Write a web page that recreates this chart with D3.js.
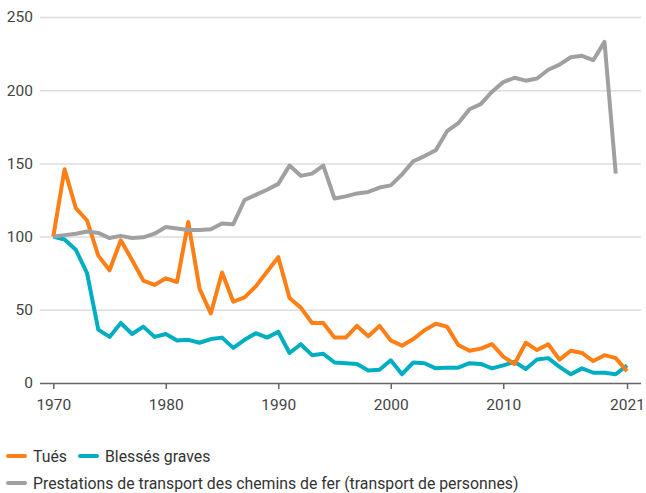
<!DOCTYPE html>
<html>
<head>
<meta charset="utf-8">
<script src="https://cdn.jsdelivr.net/npm/d3@7"></script>
<style>
  body { margin: 0; background: #fff; }
  text { font-family: Roboto, "Noto Sans", sans-serif; }
</style>
</head>
<body>
<svg width="646" height="493"></svg>
<script>
const svg = d3.select('svg');

// index values, 1970 = 100
const tues = [100, 146, 119.5, 111, 87, 77, 97.5, 84, 70, 67, 71.5, 69, 110, 64.5, 47.5,
  75.5, 55.5, 58.5, 66, 76, 86, 58, 51.5, 41, 41, 31, 31, 39, 32, 39,
  29, 25.5, 30, 36, 40.5, 38.5, 26, 22, 23.5, 26.5, 18, 13, 27.5, 22.5, 26.5,
  16, 22, 20.5, 15, 19, 17, 8];
const blesses = [100, 98, 91, 75, 36.5, 31.5, 41, 33.5, 38.5, 31.5, 33.5, 29, 29.5, 27.5, 30,
  31, 24, 29.5, 34, 31, 35, 20.5, 26.5, 19, 20, 14, 13.5, 13, 8.5, 9,
  15.5, 6, 14, 13.5, 10, 10.5, 10.5, 13.5, 13, 10, 12, 14.5, 9.5, 16, 17,
  11, 6, 10, 7, 7, 6, 12];
const rail = [100, 101, 102, 103.5, 102.5, 99, 100.5, 99, 99.5, 102, 106.5, 105.5, 104.5, 104.5, 105,
  109, 108.5, 125, 128.5, 132, 136, 148.5, 141.5, 143, 148.5, 126, 127.5, 129.5, 130.5, 133.5,
  135, 142.5, 151.5, 155, 159, 172, 177.5, 187, 190.5, 199, 205.5, 208.5, 206.5, 208, 214,
  217.5, 222.5, 223.5, 220.5, 233, 143];
const startYear = 1970;
const yTicks = [0, 50, 100, 150, 200, 250];
const xTicks = [1970, 1980, 1990, 2000, 2010, 2021];

const series = [
  {name: 'Blessés graves', values: blesses, color: '#00aec2'},
  {name: 'Tués', values: tues, color: '#ff7f17'},
  {name: 'Prestations de transport des chemins de fer (transport de personnes)', values: rail, color: '#a0a0a0'}
];

const x = d3.scaleLinear().domain([1970, 2021]).range([53.3, 627]);
const y = d3.scaleLinear().domain([0, 250]).range([383, 17]);

// grid
const yAxis = svg.append('g')
    .attr('transform', 'translate(40,0)')
    .call(d3.axisLeft(y).tickValues(yTicks).tickSize(-601).tickPadding(7));
yAxis.select('.domain').remove();
yAxis.selectAll('.tick line').attr('stroke', '#dcdcdc').attr('stroke-width', 1.5);
yAxis.selectAll('.tick text').attr('font-size', 15.5).attr('fill', '#444');
yAxis.selectAll('.tick').filter(d => d === 0).select('line').remove();

// x axis
const xAxis = svg.append('g')
    .attr('transform', 'translate(0,383)')
    .call(d3.axisBottom(x).tickValues(xTicks).tickFormat(d3.format('d')).tickSize(6).tickSizeOuter(0).tickPadding(10));
xAxis.select('.domain').attr('d', 'M40,0.5H641').attr('stroke', '#666').attr('stroke-width', 1.5);
xAxis.selectAll('.tick line').attr('stroke', '#666').attr('stroke-width', 1.5);
xAxis.selectAll('.tick text').attr('font-size', 15.5).attr('fill', '#444');

const line = d3.line()
    .x((d, i) => x(startYear + i))
    .y(d => y(d));

svg.selectAll('path.series').data(series)
  .enter().append('path')
    .attr('class', 'series')
    .attr('fill', 'none')
    .attr('stroke', d => d.color)
    .attr('stroke-width', 4)
    .attr('stroke-linejoin', 'round')
    .attr('d', d => line(d.values));

// legend
const legendItems = [
  {s: series[1], x: 8, y: 456},
  {s: series[0], x: 80, y: 456},
  {s: series[2], x: 8, y: 483}
];
const lg = svg.append('g').selectAll('g').data(legendItems).enter().append('g')
    .attr('transform', d => `translate(${d.x},${d.y})`);
lg.append('line')
    .attr('x1', 0).attr('x2', 17)
    .attr('stroke', d => d.s.color)
    .attr('stroke-width', 4)
    .attr('stroke-linecap', 'round');
lg.append('text')
    .attr('x', 25).attr('dy', '0.35em')
    .attr('font-size', 15.8)
    .attr('fill', '#333')
    .text(d => d.s.name);
</script>
</body>
</html>
